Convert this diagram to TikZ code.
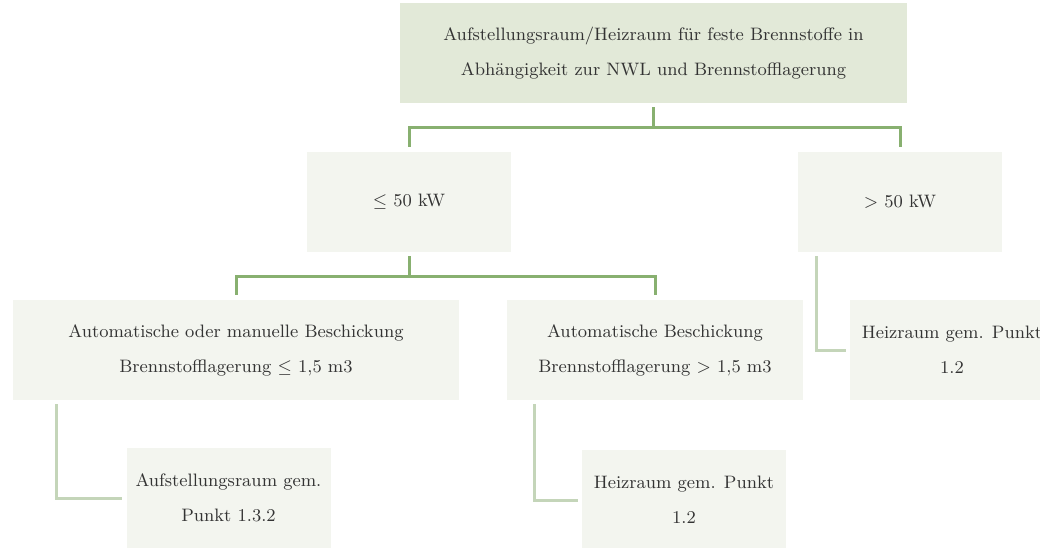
\documentclass[tikz,border=0pt]{standalone}
\usepackage{tikz}

\definecolor{headfill}{HTML}{E2E9D8}
\definecolor{boxfill}{HTML}{F3F5EF}
\definecolor{treegreen}{HTML}{88B070}
\definecolor{twiggreen}{HTML}{C4D5B9}
\definecolor{textgrey}{HTML}{333333}

\begin{document}
\begin{tikzpicture}[x=0.5pt,y=-0.5pt,
  box/.style={fill=boxfill,text=textgrey,align=center,inner sep=0pt,
    minimum width=102pt,minimum height=50pt,font=\fontsize{9}{17.5}\selectfont},
  tree/.style={draw=treegreen,line width=1.5pt,shorten <=2pt,shorten >=2.5pt},
  twig/.style={draw=twiggreen,line width=1.5pt,shorten <=2pt,shorten >=2pt}]
  \useasboundingbox (0,0) rectangle (1040,547);
  \node[box,fill=headfill,minimum width=253.5pt] (heizraum) at (653.5,53)
    {Aufstellungsraum/Heizraum für feste Brennstoffe in\\Abhängigkeit zur NWL und Brennstofflagerung};
  \node[box] (klein) at (409,202) {$\leq$ 50 kW};
  \node[box] (gross) at (900,202) {> 50 kW};
  \node[box,minimum width=223pt] (manuell) at (236,350)
    {Automatische oder manuelle Beschickung\\Brennstofflagerung $\leq$ 1,5 m3};
  \node[box,minimum width=148pt] (automatik) at (655,350)
    {Automatische Beschickung\\Brennstofflagerung > 1,5 m3};
  \node[box] (heizgross) at (952,350) {Heizraum gem. Punkt\\1.2};
  \node[box] (aufstellung) at (228.5,498) {Aufstellungsraum gem.\\Punkt 1.3.2};
  \node[box] (heizklein) at (684,500) {Heizraum gem. Punkt\\1.2};
  \draw[tree] (heizraum.south) -- ++(0,24) -| (klein.north);
  \draw[tree] (heizraum.south) -- ++(0,24) -| (gross.north);
  \draw[tree] (klein.south) -- ++(0,24) -| (manuell.north);
  \draw[tree] (klein.south) -- ++(0,24) -| (automatik.north);
  \draw[twig] ([xshift=22pt]manuell.south west) |- (aufstellung.west);
  \draw[twig] ([xshift=14pt]automatik.south west) |- (heizklein.west);
  \draw[twig] ([xshift=9.5pt]gross.south west) |- (heizgross.west);
\end{tikzpicture}
\end{document}
